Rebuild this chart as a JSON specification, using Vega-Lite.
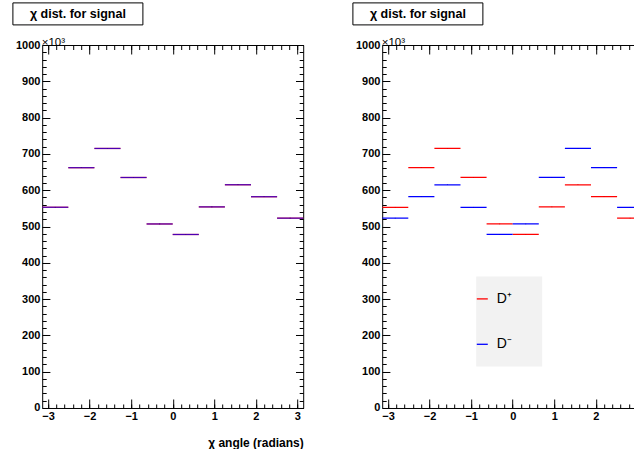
{
  "$schema": "https://vega.github.io/schema/vega-lite/v6.json",
  "background": "white",
  "padding": {"left": 12.2, "top": 2.0, "right": 0, "bottom": 0},
  "bounds": "flush",
  "spacing": 79,
  "resolve": {"scale": {"color": "independent"}, "legend": {"color": "independent"}},
  "config": {
    "view": {"stroke": null},
    "font": "Liberation Sans",
    "axis": {
      "grid": false,
      "labelFont": "Liberation Sans",
      "labelFontWeight": "bold",
      "labelFontSize": 11,
      "labelColor": "black",
      "labelFlush": false,
      "labelOverlap": false,
      "tickColor": "black",
      "tickWidth": 1,
      "domainColor": "black",
      "domainWidth": 1,
      "titleColor": "black",
      "titleFont": "Liberation Sans"
    }
  },
  "datasets": {
    "left": [
      {"series": "D⁺", "lo": -3.1416, "hi": -2.5133, "mid": -2.8274, "n": 553, "nlo": 552.2, "nhi": 553.8},
      {"series": "D⁺", "lo": -2.5133, "hi": -1.885, "mid": -2.1991, "n": 662, "nlo": 661.2, "nhi": 662.8},
      {"series": "D⁺", "lo": -1.885, "hi": -1.2566, "mid": -1.5708, "n": 715, "nlo": 714.2, "nhi": 715.8},
      {"series": "D⁺", "lo": -1.2566, "hi": -0.6283, "mid": -0.9425, "n": 635, "nlo": 634.2, "nhi": 635.8},
      {"series": "D⁺", "lo": -0.6283, "hi": 0, "mid": -0.3142, "n": 507, "nlo": 506.2, "nhi": 507.8},
      {"series": "D⁺", "lo": 0, "hi": 0.6283, "mid": 0.3142, "n": 478, "nlo": 477.2, "nhi": 478.8},
      {"series": "D⁺", "lo": 0.6283, "hi": 1.2566, "mid": 0.9425, "n": 554, "nlo": 553.2, "nhi": 554.8},
      {"series": "D⁺", "lo": 1.2566, "hi": 1.885, "mid": 1.5708, "n": 615, "nlo": 614.2, "nhi": 615.8},
      {"series": "D⁺", "lo": 1.885, "hi": 2.5133, "mid": 2.1991, "n": 582, "nlo": 581.2, "nhi": 582.8},
      {"series": "D⁺", "lo": 2.5133, "hi": 3.1416, "mid": 2.8274, "n": 523, "nlo": 522.2, "nhi": 523.8},
      {"series": "D⁻", "lo": -3.1416, "hi": -2.5133, "mid": -2.8274, "n": 553, "nlo": 552.2, "nhi": 553.8},
      {"series": "D⁻", "lo": -2.5133, "hi": -1.885, "mid": -2.1991, "n": 662, "nlo": 661.2, "nhi": 662.8},
      {"series": "D⁻", "lo": -1.885, "hi": -1.2566, "mid": -1.5708, "n": 715, "nlo": 714.2, "nhi": 715.8},
      {"series": "D⁻", "lo": -1.2566, "hi": -0.6283, "mid": -0.9425, "n": 635, "nlo": 634.2, "nhi": 635.8},
      {"series": "D⁻", "lo": -0.6283, "hi": 0, "mid": -0.3142, "n": 507, "nlo": 506.2, "nhi": 507.8},
      {"series": "D⁻", "lo": 0, "hi": 0.6283, "mid": 0.3142, "n": 478, "nlo": 477.2, "nhi": 478.8},
      {"series": "D⁻", "lo": 0.6283, "hi": 1.2566, "mid": 0.9425, "n": 554, "nlo": 553.2, "nhi": 554.8},
      {"series": "D⁻", "lo": 1.2566, "hi": 1.885, "mid": 1.5708, "n": 615, "nlo": 614.2, "nhi": 615.8},
      {"series": "D⁻", "lo": 1.885, "hi": 2.5133, "mid": 2.1991, "n": 582, "nlo": 581.2, "nhi": 582.8},
      {"series": "D⁻", "lo": 2.5133, "hi": 3.1416, "mid": 2.8274, "n": 523, "nlo": 522.2, "nhi": 523.8}
    ],
    "right": [
      {"series": "D⁺", "lo": -3.1416, "hi": -2.5133, "mid": -2.8274, "n": 553, "nlo": 552.2, "nhi": 553.8},
      {"series": "D⁺", "lo": -2.5133, "hi": -1.885, "mid": -2.1991, "n": 662, "nlo": 661.2, "nhi": 662.8},
      {"series": "D⁺", "lo": -1.885, "hi": -1.2566, "mid": -1.5708, "n": 715, "nlo": 714.2, "nhi": 715.8},
      {"series": "D⁺", "lo": -1.2566, "hi": -0.6283, "mid": -0.9425, "n": 635, "nlo": 634.2, "nhi": 635.8},
      {"series": "D⁺", "lo": -0.6283, "hi": 0, "mid": -0.3142, "n": 507, "nlo": 506.2, "nhi": 507.8},
      {"series": "D⁺", "lo": 0, "hi": 0.6283, "mid": 0.3142, "n": 478, "nlo": 477.2, "nhi": 478.8},
      {"series": "D⁺", "lo": 0.6283, "hi": 1.2566, "mid": 0.9425, "n": 554, "nlo": 553.2, "nhi": 554.8},
      {"series": "D⁺", "lo": 1.2566, "hi": 1.885, "mid": 1.5708, "n": 615, "nlo": 614.2, "nhi": 615.8},
      {"series": "D⁺", "lo": 1.885, "hi": 2.5133, "mid": 2.1991, "n": 582, "nlo": 581.2, "nhi": 582.8},
      {"series": "D⁺", "lo": 2.5133, "hi": 3.1416, "mid": 2.8274, "n": 523, "nlo": 522.2, "nhi": 523.8},
      {"series": "D⁻", "lo": -3.1416, "hi": -2.5133, "mid": -2.8274, "n": 523, "nlo": 522.2, "nhi": 523.8},
      {"series": "D⁻", "lo": -2.5133, "hi": -1.885, "mid": -2.1991, "n": 582, "nlo": 581.2, "nhi": 582.8},
      {"series": "D⁻", "lo": -1.885, "hi": -1.2566, "mid": -1.5708, "n": 615, "nlo": 614.2, "nhi": 615.8},
      {"series": "D⁻", "lo": -1.2566, "hi": -0.6283, "mid": -0.9425, "n": 553, "nlo": 552.2, "nhi": 553.8},
      {"series": "D⁻", "lo": -0.6283, "hi": 0, "mid": -0.3142, "n": 478, "nlo": 477.2, "nhi": 478.8},
      {"series": "D⁻", "lo": 0, "hi": 0.6283, "mid": 0.3142, "n": 507, "nlo": 506.2, "nhi": 507.8},
      {"series": "D⁻", "lo": 0.6283, "hi": 1.2566, "mid": 0.9425, "n": 635, "nlo": 634.2, "nhi": 635.8},
      {"series": "D⁻", "lo": 1.2566, "hi": 1.885, "mid": 1.5708, "n": 715, "nlo": 714.2, "nhi": 715.8},
      {"series": "D⁻", "lo": 1.885, "hi": 2.5133, "mid": 2.1991, "n": 662, "nlo": 661.2, "nhi": 662.8},
      {"series": "D⁻", "lo": 2.5133, "hi": 3.1416, "mid": 2.8274, "n": 553, "nlo": 552.2, "nhi": 553.8}
    ],
    "caption": [{"t": "χ dist. for signal"}]
  },
  "hconcat": [
    {
      "width": 261,
      "height": 363,
      "data": {"name": "left"},
      "resolve": {"axis": {"x": "independent", "y": "independent"}},
      "layer": [
        {
          "transform": [{"filter": "datum.series === 'D⁺'"}],
          "mark": {"type": "rule", "color": "#ff0000", "strokeWidth": 1.25},
          "encoding": {
            "x": {"field": "lo", "type": "quantitative",
              "scale": {"domain": [-3.1416, 3.1416], "nice": false, "zero": false},
              "axis": {"orient": "bottom", "values": [-3, -2, -1, 0, 1, 2, 3], "tickSize": -9, "labelPadding": 12,
                "title": "χ angle (radians)", "titleFontSize": 12, "titleFontWeight": "bold",
                "titleX": 261, "titleY": 34.5, "titleAlign": "right", "titleBaseline": "middle", "titleAngle": 0}},
            "x2": {"field": "hi"},
            "y": {"field": "n", "type": "quantitative",
              "scale": {"domain": [0, 1000], "nice": false, "zero": true},
              "axis": {"orient": "left", "values": [0, 100, 200, 300, 400, 500, 600, 700, 800, 900, 1000], "format": "d", "tickSize": -7.7, "labelPadding": 10,
                "title": "×10³", "titleAngle": 0, "titleFontSize": 11.5, "titleFontWeight": "normal",
                "titleX": -1, "titleY": 0.8, "titleAlign": "left", "titleBaseline": "alphabetic"}}
          }
        },
        {
          "transform": [{"filter": "datum.series === 'D⁻'"}],
          "mark": {"type": "rule", "color": "#0000ff", "strokeWidth": 1.25, "opacity": 0.7},
          "encoding": {
            "x": {"field": "lo", "type": "quantitative",
              "axis": {"orient": "bottom", "values": [-3, -2.8, -2.6, -2.4, -2.2, -2, -1.8, -1.6, -1.4, -1.2, -1, -0.8, -0.6, -0.4, -0.2, 0, 0.2, 0.4, 0.6, 0.8, 1, 1.2, 1.4, 1.6, 1.8, 2, 2.2, 2.4, 2.6, 2.8, 3],
                "tickSize": -4, "labels": false, "domain": false, "title": null}},
            "x2": {"field": "hi"},
            "y": {"field": "n", "type": "quantitative",
              "axis": {"orient": "left", "values": [0, 20, 40, 60, 80, 100, 120, 140, 160, 180, 200, 220, 240, 260, 280, 300, 320, 340, 360, 380, 400, 420, 440, 460, 480, 500, 520, 540, 560, 580, 600, 620, 640, 660, 680, 700, 720, 740, 760, 780, 800, 820, 840, 860, 880, 900, 920, 940, 960, 980, 1000],
                "tickSize": -4, "labels": false, "domain": false, "title": null}}
          }
        },
        {
          "transform": [{"filter": "datum.series === 'D⁺'"}],
          "mark": {"type": "rule", "color": "#cc0000", "strokeWidth": 1},
          "encoding": {
            "x": {"field": "mid", "type": "quantitative",
              "axis": {"orient": "top", "values": [-3, -2, -1, 0, 1, 2, 3], "tickSize": -9, "labels": false, "title": null}},
            "y": {"field": "nlo", "type": "quantitative",
              "axis": {"orient": "right", "values": [0, 100, 200, 300, 400, 500, 600, 700, 800, 900, 1000], "tickSize": -7.7, "labels": false, "title": null}},
            "y2": {"field": "nhi"}
          }
        },
        {
          "transform": [{"filter": "datum.series === 'D⁻'"}],
          "mark": {"type": "rule", "color": "#0000cc", "strokeWidth": 1},
          "encoding": {
            "x": {"field": "mid", "type": "quantitative",
              "axis": {"orient": "top", "values": [-3, -2.8, -2.6, -2.4, -2.2, -2, -1.8, -1.6, -1.4, -1.2, -1, -0.8, -0.6, -0.4, -0.2, 0, 0.2, 0.4, 0.6, 0.8, 1, 1.2, 1.4, 1.6, 1.8, 2, 2.2, 2.4, 2.6, 2.8, 3],
                "tickSize": -4.5, "labels": false, "domain": false, "title": null}},
            "y": {"field": "nlo", "type": "quantitative",
              "axis": {"orient": "right", "values": [0, 20, 40, 60, 80, 100, 120, 140, 160, 180, 200, 220, 240, 260, 280, 300, 320, 340, 360, 380, 400, 420, 440, 460, 480, 500, 520, 540, 560, 580, 600, 620, 640, 660, 680, 700, 720, 740, 760, 780, 800, 820, 840, 860, 880, 900, 920, 940, 960, 980, 1000],
                "tickSize": -4, "labels": false, "domain": false, "title": null}},
            "y2": {"field": "nhi"}
          }
        },
        {
          "data": {"name": "caption"},
          "mark": {"type": "rect", "fill": "white", "stroke": "black", "strokeWidth": 1},
          "encoding": {"x": {"value": -29.3}, "x2": {"value": 100.7}, "y": {"value": -42.1}, "y2": {"value": -20.1}}
        },
        {
          "data": {"name": "caption"},
          "mark": {"type": "text", "font": "Liberation Sans", "fontWeight": "bold", "fontSize": 12.5, "align": "center", "baseline": "middle", "color": "black"},
          "encoding": {"text": {"field": "t"}, "x": {"value": 35.7}, "y": {"value": -30.8}}
        }
      ]
    },
    {
      "width": 252,
      "height": 363,
      "data": {"name": "right"},
      "resolve": {"axis": {"x": "independent", "y": "independent"}},
      "layer": [
        {
          "transform": [{"filter": "datum.series === 'D⁺'"}],
          "mark": {"type": "rule", "strokeWidth": 1.25, "clip": true},
          "encoding": {
            "x": {"field": "lo", "type": "quantitative",
              "scale": {"domain": [-3.1416, 2.925], "nice": false, "zero": false},
              "axis": {"orient": "bottom", "values": [-3, -2, -1, 0, 1, 2], "tickSize": -9, "labelPadding": 12, "title": null}},
            "x2": {"field": "hi"},
            "y": {"field": "n", "type": "quantitative",
              "scale": {"domain": [0, 1000], "nice": false, "zero": true},
              "axis": {"orient": "left", "values": [0, 100, 200, 300, 400, 500, 600, 700, 800, 900, 1000], "format": "d", "tickSize": -7.7, "labelPadding": 10,
                "title": "×10³", "titleAngle": 0, "titleFontSize": 11.5, "titleFontWeight": "normal",
                "titleX": -1, "titleY": 0.8, "titleAlign": "left", "titleBaseline": "alphabetic"}},
            "color": {"field": "series", "type": "nominal",
              "scale": {"domain": ["D⁺", "D⁻"], "range": ["#ff0000", "#0000ff"]},
              "legend": {"title": " ", "titleOrient": "right", "titlePadding": 14.9, "titleFontSize": 14,
                "orient": "none", "legendX": 94, "legendY": 231.6, "direction": "vertical",
                "fillColor": "#f2f2f2", "padding": 15.3, "symbolType": "stroke", "symbolSize": 121, "symbolStrokeWidth": 1.3,
                "symbolOffset": -16.2, "labelOffset": 7.4, "labelFont": "Liberation Sans", "labelFontSize": 14,
                "labelFontWeight": "normal", "labelColor": "black", "rowPadding": 31.4, "labelBaseline": "middle"}}
          }
        },
        {
          "transform": [{"filter": "datum.series === 'D⁻'"}],
          "mark": {"type": "rule", "strokeWidth": 1.25, "clip": true},
          "encoding": {
            "x": {"field": "lo", "type": "quantitative",
              "axis": {"orient": "bottom", "values": [-3, -2.8, -2.6, -2.4, -2.2, -2, -1.8, -1.6, -1.4, -1.2, -1, -0.8, -0.6, -0.4, -0.2, 0, 0.2, 0.4, 0.6, 0.8, 1, 1.2, 1.4, 1.6, 1.8, 2, 2.2, 2.4, 2.6, 2.8],
                "tickSize": -4, "labels": false, "domain": false, "title": null}},
            "x2": {"field": "hi"},
            "y": {"field": "n", "type": "quantitative",
              "axis": {"orient": "left", "values": [0, 20, 40, 60, 80, 100, 120, 140, 160, 180, 200, 220, 240, 260, 280, 300, 320, 340, 360, 380, 400, 420, 440, 460, 480, 500, 520, 540, 560, 580, 600, 620, 640, 660, 680, 700, 720, 740, 760, 780, 800, 820, 840, 860, 880, 900, 920, 940, 960, 980, 1000],
                "tickSize": -4, "labels": false, "domain": false, "title": null}},
            "color": {"field": "series", "type": "nominal"}
          }
        },
        {
          "transform": [{"filter": "datum.series === 'D⁺'"}],
          "mark": {"type": "rule", "color": "#cc0000", "strokeWidth": 1, "clip": true},
          "encoding": {
            "x": {"field": "mid", "type": "quantitative",
              "axis": {"orient": "top", "values": [-3, -2, -1, 0, 1, 2], "tickSize": -9, "labels": false, "title": null}},
            "y": {"field": "nlo", "type": "quantitative", "axis": null},
            "y2": {"field": "nhi"}
          }
        },
        {
          "transform": [{"filter": "datum.series === 'D⁻'"}],
          "mark": {"type": "rule", "color": "#0000cc", "strokeWidth": 1, "clip": true},
          "encoding": {
            "x": {"field": "mid", "type": "quantitative",
              "axis": {"orient": "top", "values": [-3, -2.8, -2.6, -2.4, -2.2, -2, -1.8, -1.6, -1.4, -1.2, -1, -0.8, -0.6, -0.4, -0.2, 0, 0.2, 0.4, 0.6, 0.8, 1, 1.2, 1.4, 1.6, 1.8, 2, 2.2, 2.4, 2.6, 2.8],
                "tickSize": -4.5, "labels": false, "domain": false, "title": null}},
            "y": {"field": "nlo", "type": "quantitative", "axis": null},
            "y2": {"field": "nhi"}
          }
        },
        {
          "data": {"name": "caption"},
          "mark": {"type": "rect", "fill": "white", "stroke": "black", "strokeWidth": 1},
          "encoding": {"x": {"value": -29.3}, "x2": {"value": 100.7}, "y": {"value": -42.1}, "y2": {"value": -20.1}}
        },
        {
          "data": {"name": "caption"},
          "mark": {"type": "text", "font": "Liberation Sans", "fontWeight": "bold", "fontSize": 12.5, "align": "center", "baseline": "middle", "color": "black"},
          "encoding": {"text": {"field": "t"}, "x": {"value": 35.7}, "y": {"value": -30.8}}
        }
      ]
    }
  ]
}
